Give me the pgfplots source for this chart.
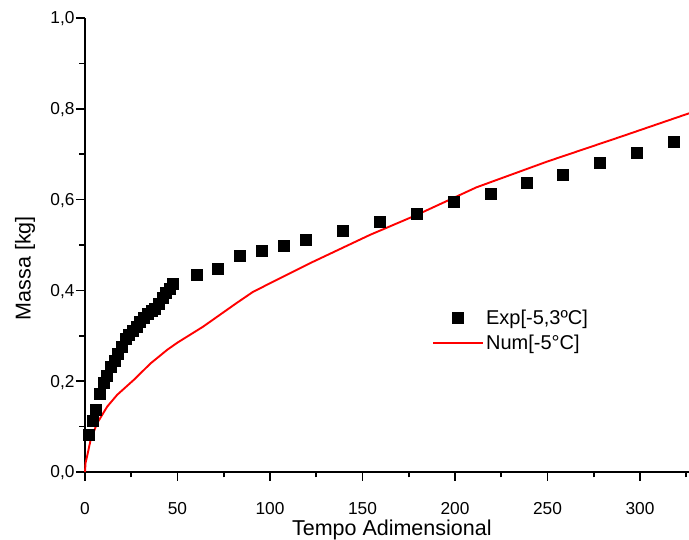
\documentclass[border=0pt]{standalone}
\usepackage{fontspec}
\setmainfont{Liberation Sans}
\usepackage{pgfplots}
\pgfplotsset{compat=1.18}
\begin{document}
\begin{tikzpicture}
\useasboundingbox (-85pt,-68pt) rectangle (604pt,472pt);
\begin{axis}[
  at={(0pt,0pt)}, anchor=south west,
  scale only axis, width=604pt, height=454pt,
  xmin=0, xmax=326.5, ymin=0, ymax=1,
  axis lines*=left,
  axis line style={line width=1.4pt, -},
  xtick={0,50,...,300}, ytick={0,0.2,0.4,0.6,0.8,1.0},
  minor xtick={25,75,...,325}, minor ytick={0.1,0.3,...,0.9},
  tick align=outside, major tick length=9pt, minor tick length=5.5pt,
  tick style={line width=1.6pt, black},
  /pgf/number format/assume math mode=true,
  tick label style={font=\fontsize{17.3}{20}\selectfont},
  xticklabel style={anchor=base, yshift=-34pt},
  yticklabel style={/pgf/number format/fixed, /pgf/number format/fixed zerofill,
    /pgf/number format/precision=1, /pgf/number format/use comma, anchor=base east, yshift=-6pt, xshift=2pt},
  xlabel={Tempo Adimensional}, ylabel={Massa [kg]},
  label style={font=\fontsize{21.5}{25}\selectfont},
  xlabel style={at={(rel axis cs:0.508,0)}, anchor=base, yshift=-64pt},
  ylabel style={at={(rel axis cs:0,0.449)}, anchor=center, yshift=60pt},
  clip=false,
  legend style={at={(rel axis cs:0.5745,0.362)}, anchor=north west, draw=none, fill=none,
    font=\fontsize{20}{24}\selectfont, inner sep=0pt, row sep=5pt},
  legend cell align=left,
]
\pgfplotsinvokeforeach{0,50,100,150,200,250,300}{
  \draw[line width=1.4pt] (axis cs:#1,0) -- ++(0pt,-8pt);}
\pgfplotsinvokeforeach{25,75,125,175,225,275,325}{
  \draw[line width=1.4pt] (axis cs:#1,0) -- ++(0pt,-5pt);}
\addplot[only marks, mark=square*, mark size=5.5pt, black,
  legend image code/.code={\draw[mark repeat=2,mark phase=2] plot coordinates {(0pt,0pt)(25pt,0pt)(50pt,0pt)};}]
  coordinates {
(1.8,0.082) (4.0,0.112) (6.0,0.138) (8.0,0.173) (9.9,0.196) (11.8,0.212)
(13.8,0.233) (15.8,0.246) (17.7,0.260) (19.8,0.276) (21.8,0.294) (23.8,0.303)
(25.8,0.312) (27.8,0.320) (29.8,0.330) (31.8,0.340) (33.8,0.348) (35.8,0.355)
(37.8,0.360) (39.8,0.370) (41.8,0.383) (43.8,0.395) (45.8,0.404) (47.6,0.414)
(60.4,0.434) (71.8,0.447) (83.7,0.476) (95.6,0.487) (107.5,0.498) (119.4,0.511)
(139.5,0.531) (159.2,0.551) (179.2,0.568) (199.4,0.595) (219.4,0.614) (238.7,0.637)
(258.3,0.654) (278.3,0.682) (298.2,0.703) (318.2,0.727)
};
\addlegendentry{Exp[-5,3ºC]}
\addplot[red, line width=1.9pt, no marks,
  legend image code/.code={\draw (0pt,0pt) -- (50pt,0pt);}]
  coordinates {
(0,0) (0.3,0.02) (1.1,0.034) (3,0.07) (6.5,0.107) (12,0.144) (17.4,0.170)
(26.4,0.203) (35.4,0.239) (44.4,0.269) (50,0.285) (63.8,0.32) (81.9,0.372)
(90.9,0.397) (121.7,0.46) (153.9,0.522) (179.2,0.566) (211.6,0.627)
(250,0.684) (290,0.739) (326.5,0.790)
};
\addlegendentry{Num[-5°C]}
\end{axis}
\end{tikzpicture}
\end{document}
